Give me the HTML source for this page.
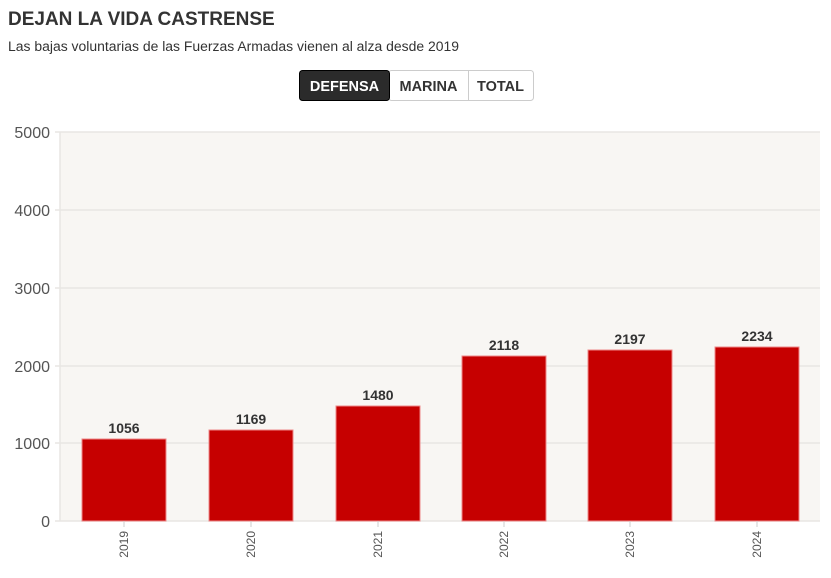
<!DOCTYPE html>
<html><head><style>
body{margin:0;width:831px;height:573px;background:#fff;font-family:"Liberation Sans",sans-serif;overflow:hidden}
</style></head><body>
<svg width="831" height="573" xmlns="http://www.w3.org/2000/svg" font-family="Liberation Sans, sans-serif">
<text x="8" y="25" font-size="19" font-weight="bold" fill="#333">DEJAN LA VIDA CASTRENSE</text>
<text x="8" y="51" font-size="13.5" fill="#333" textLength="451" lengthAdjust="spacingAndGlyphs">Las bajas voluntarias de las Fuerzas Armadas vienen al alza desde 2019</text>
<rect x="388.5" y="70.5" width="145" height="30" rx="3" fill="#fff" stroke="#ccc"/>
<line x1="468.5" y1="71" x2="468.5" y2="100" stroke="#ccc"/>
<rect x="299.5" y="70.5" width="90" height="30" rx="3" fill="#2b2b2b" stroke="#000"/>
<text x="344.5" y="91" font-size="14.5" font-weight="bold" fill="#fff" text-anchor="middle">DEFENSA</text>
<text x="428.5" y="91" font-size="14.5" font-weight="bold" fill="#333" text-anchor="middle">MARINA</text>
<text x="500.5" y="91" font-size="14.5" font-weight="bold" fill="#333" text-anchor="middle">TOTAL</text>
<rect x="60" y="132" width="760" height="389" fill="#f8f6f3"/>
<g stroke="#e8e6e3" stroke-width="1.5">
<line x1="55" y1="132" x2="820" y2="132"/><line x1="55" y1="210" x2="820" y2="210"/>
<line x1="55" y1="288" x2="820" y2="288"/><line x1="55" y1="366" x2="820" y2="366"/>
<line x1="55" y1="443" x2="820" y2="443"/><line x1="55" y1="521" x2="820" y2="521"/>
<line x1="60" y1="132" x2="60" y2="521"/>
</g>
<g font-size="16" fill="#555" text-anchor="end">
<text x="50" y="138">5000</text><text x="50" y="216">4000</text><text x="50" y="294">3000</text>
<text x="50" y="372">2000</text><text x="50" y="449">1000</text><text x="50" y="527">0</text>
</g>
<g fill="#c60000" stroke="#e88" stroke-width="1">
<rect x="82" y="439" width="84" height="82"/>
<rect x="209" y="430" width="84" height="91"/>
<rect x="336" y="406" width="84" height="115"/>
<rect x="462" y="356" width="84" height="165"/>
<rect x="588" y="350" width="84" height="171"/>
<rect x="715" y="347" width="84" height="174"/>
</g>
<g font-size="14" font-weight="bold" fill="#333" text-anchor="middle">
<text x="124" y="433">1056</text><text x="251" y="424">1169</text><text x="378" y="400">1480</text>
<text x="504" y="350">2118</text><text x="630" y="344">2197</text><text x="757" y="341">2234</text>
</g>
<g stroke="#ccc"><line x1="124" y1="521" x2="124" y2="527"/><line x1="251" y1="521" x2="251" y2="527"/><line x1="378" y1="521" x2="378" y2="527"/><line x1="504" y1="521" x2="504" y2="527"/><line x1="630" y1="521" x2="630" y2="527"/><line x1="757" y1="521" x2="757" y2="527"/></g>
<g font-size="12" fill="#555" text-anchor="end">
<text transform="translate(128,531) rotate(-90)">2019</text>
<text transform="translate(255,531) rotate(-90)">2020</text>
<text transform="translate(382,531) rotate(-90)">2021</text>
<text transform="translate(508,531) rotate(-90)">2022</text>
<text transform="translate(634,531) rotate(-90)">2023</text>
<text transform="translate(761,531) rotate(-90)">2024</text>
</g>
</svg>
</body></html>
